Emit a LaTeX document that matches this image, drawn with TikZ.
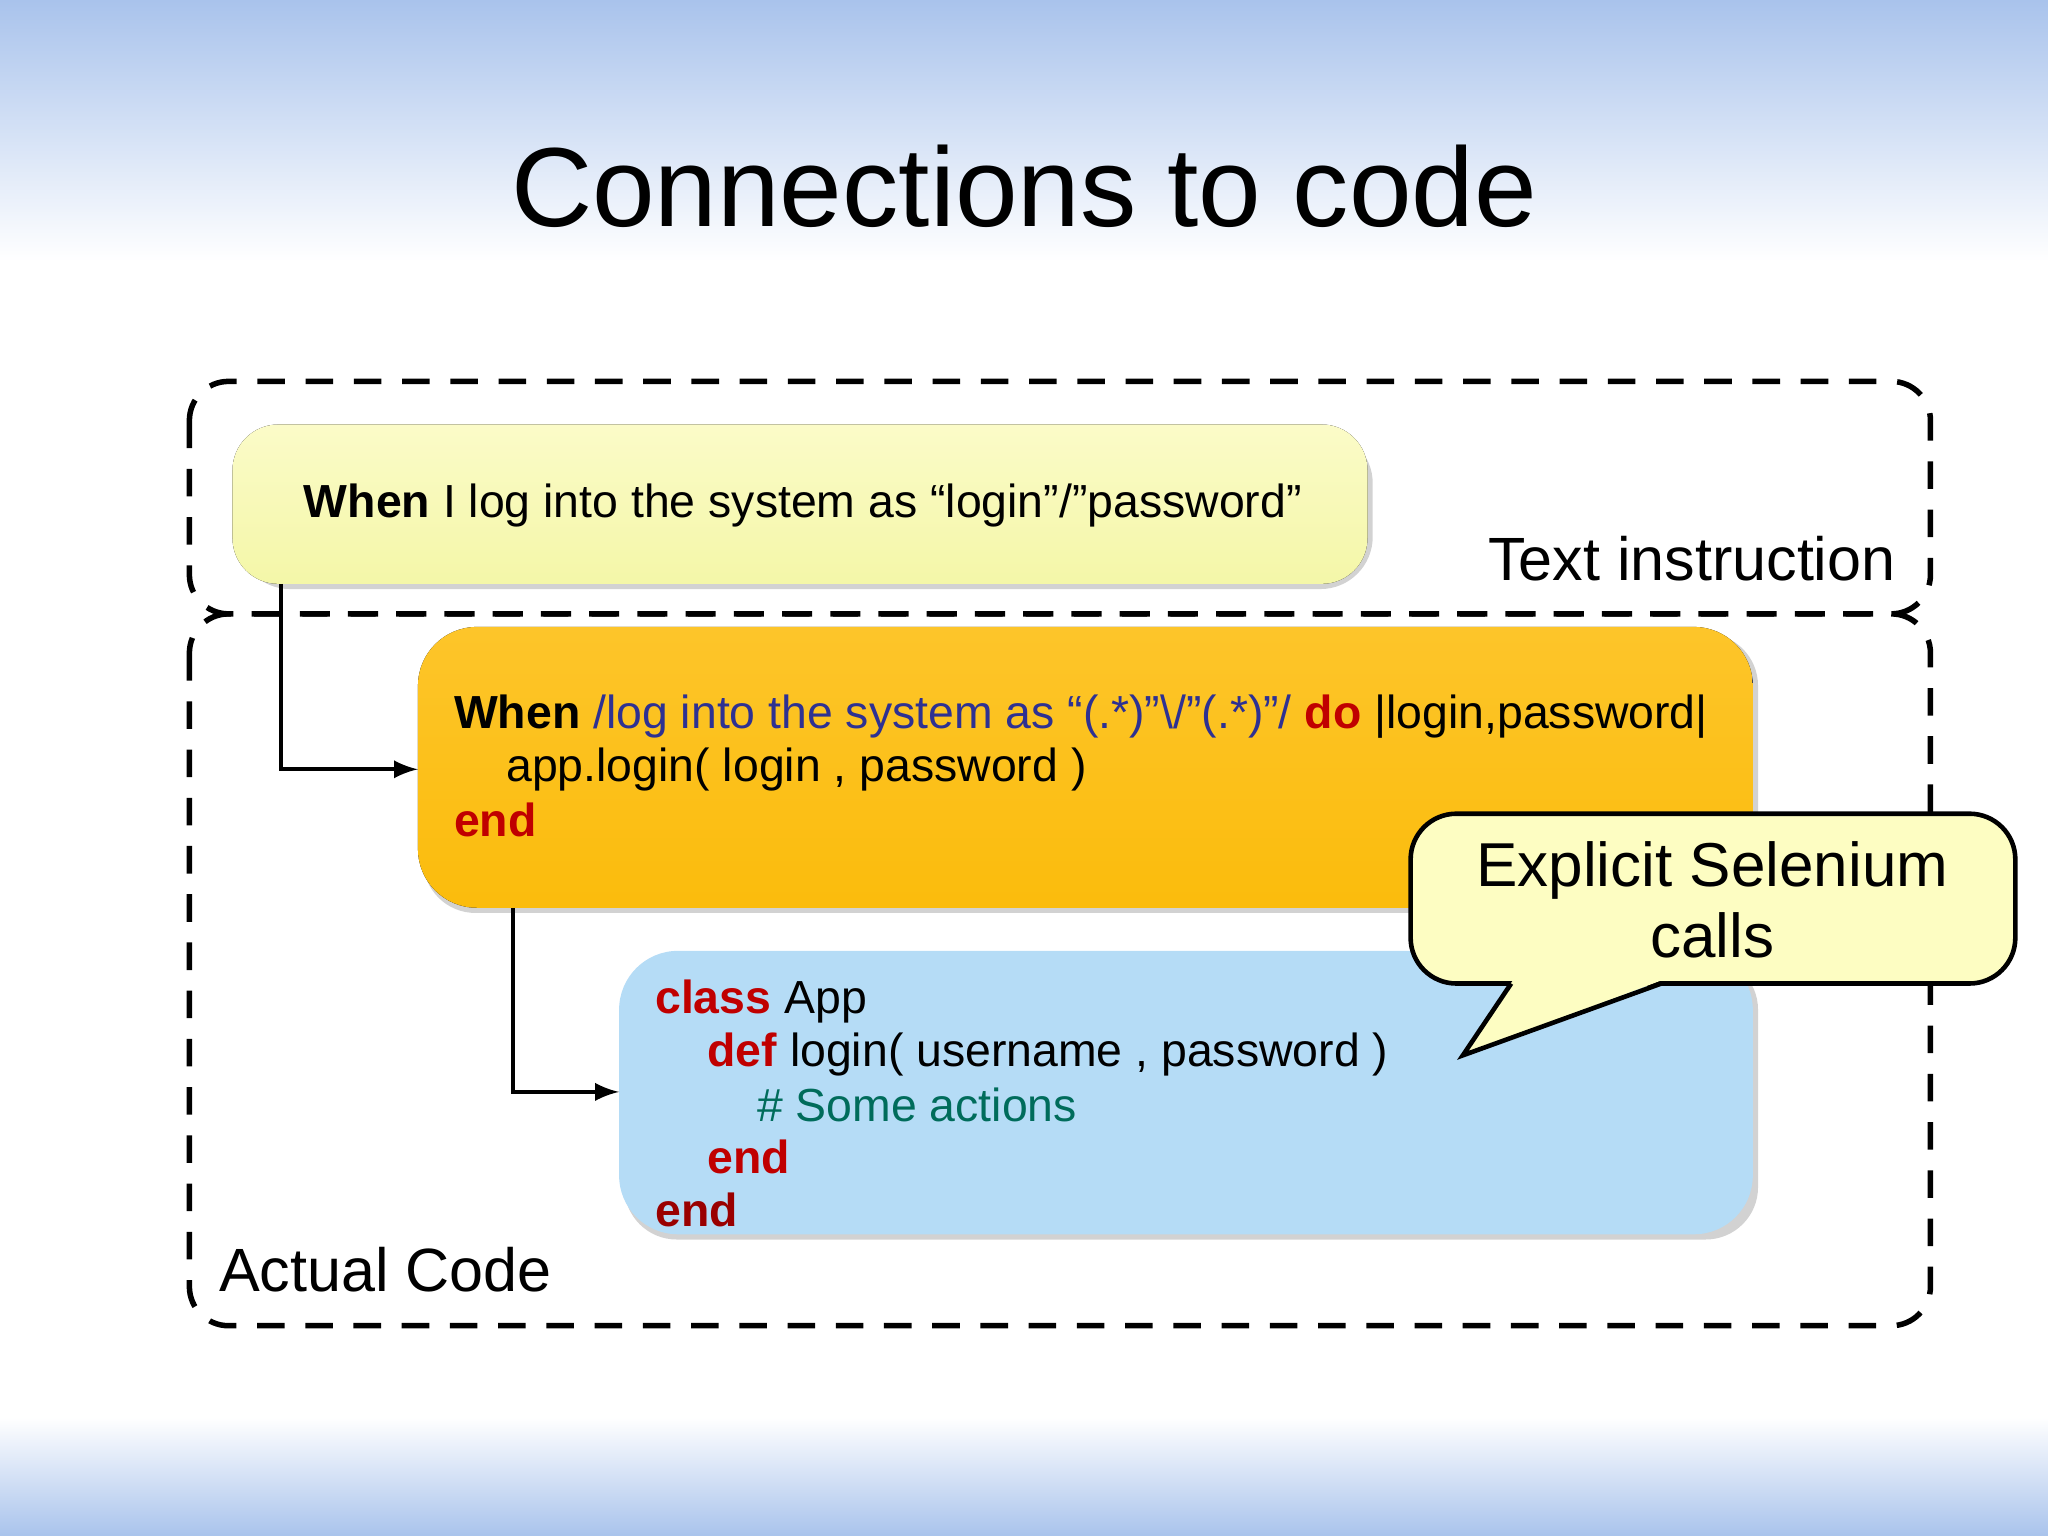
\documentclass[tikz,border=0pt]{standalone}
\usepackage{fontspec}
\setmainfont{Liberation Sans}
\begin{document}
\begin{tikzpicture}[x=0.01cm,y=-0.01cm,
  dbox/.style={draw=black,line width=1.2pt,dash pattern=on 6pt off 4.5pt,rounded corners=0.3cm},
  shadow/.style={fill=gray!35,rounded corners=0.4cm},
  code/.style={anchor=west,font=\fontsize{10.1pt}{12pt}\selectfont,inner sep=0pt},
  conn/.style={draw=black,line width=0.8pt,-latex}]
\definecolor{kw}{HTML}{C00000}
\definecolor{rx}{HTML}{2E3192}
\definecolor{cm}{HTML}{006C5B}
\definecolor{bgb}{HTML}{A9C3EC}
\definecolor{yl}{HTML}{F4F7A8}
\definecolor{yl2}{HTML}{FBFBC8}
\definecolor{org}{HTML}{FBBC0C}
\definecolor{org2}{HTML}{FDC52A}
\definecolor{blu}{HTML}{B5DCF6}
\definecolor{cal}{HTML}{FDFDC2}
\useasboundingbox (0,0) rectangle (1568,1176);
\fill[top color=bgb,bottom color=white] (0,0) rectangle (1568,200);
\fill[top color=white,bottom color=bgb] (0,1085) rectangle (1568,1176);
\node[font=\fontsize{24.5pt}{28pt}\selectfont] (title) at (784,143) {Connections to code};
% dashed boxes
\draw[dbox] (145,292) rectangle (1478,470);
\draw[dbox] (145,470) rectangle (1478,1015);
% yellow box
\fill[shadow] (182,330) rectangle (1051,451);
\fill[rounded corners=0.35cm,top color=yl2,bottom color=yl] (178,325) rectangle (1047,447);
\coordinate (ybot) at (215,447);
\node[code] (ytext) at (232,387) {\textbf{When} I log into the system as “login”/”password”};
% orange box
\fill[shadow] (324,485) rectangle (1346,699);
\fill[rounded corners=0.45cm,top color=org2,bottom color=org] (320,480) rectangle (1342,695);
\coordinate (oin) at (320,589);
\coordinate (obot) at (393,695);
\node[code] (o1) at (347,549) {\textbf{When} \textcolor{rx}{/log into the system as “(.*)”\textbackslash/”(.*)”/} \textcolor{kw}{\textbf{do}} |login,password|};
\node[code] (o2) at (387,589) {app.login( login , password )};
\node[code] (o3) at (347,628) {\textcolor{kw}{\textbf{end}}};
% blue box
\fill[shadow] (478,733) rectangle (1346,949);
\fill[rounded corners=0.45cm,blu] (474,728) rectangle (1342,945);
\coordinate (bin) at (474,836);
\node[code] (b1) at (501,767) {\textcolor{kw}{\textbf{class}} App};
\node[code] (b2) at (541,807) {\textcolor{kw}{\textbf{def}} login( username , password )};
\node[code] (b3) at (579,846) {\textcolor{cm}{\# Some actions}};
\node[code] (b4) at (541,886) {\textcolor{kw}{\textbf{end}}};
\node[code] (b5) at (501,926) {\textcolor{kw!80!black}{\textbf{end}}};
% labels
\node[anchor=east,inner sep=0pt,font=\fontsize{13.3pt}{16pt}\selectfont] (ti) at (1452,428) {Text instruction};
\node[anchor=west,inner sep=0pt,font=\fontsize{13.3pt}{16pt}\selectfont] (ac) at (167,972) {Actual Code};
% connectors
\draw[conn] (ybot) -- (ybot |- oin) -- (oin);
\draw[conn] (obot) -- (obot |- bin) -- (bin);
% callout
\draw[line width=1pt,fill=cal,rounded corners=0.35cm] (1080,623) rectangle (1543,753);
\fill[cal] (1158,751) -- (1120,808) -- (1271,751) -- cycle;
\draw[line width=1pt] (1157,753) -- (1120,808) -- (1272,753);
\node[align=center,font=\fontsize{13.5pt}{15.5pt}\selectfont] (ct) at (1311,689) {Explicit Selenium\\calls};
\end{tikzpicture}
\end{document}
